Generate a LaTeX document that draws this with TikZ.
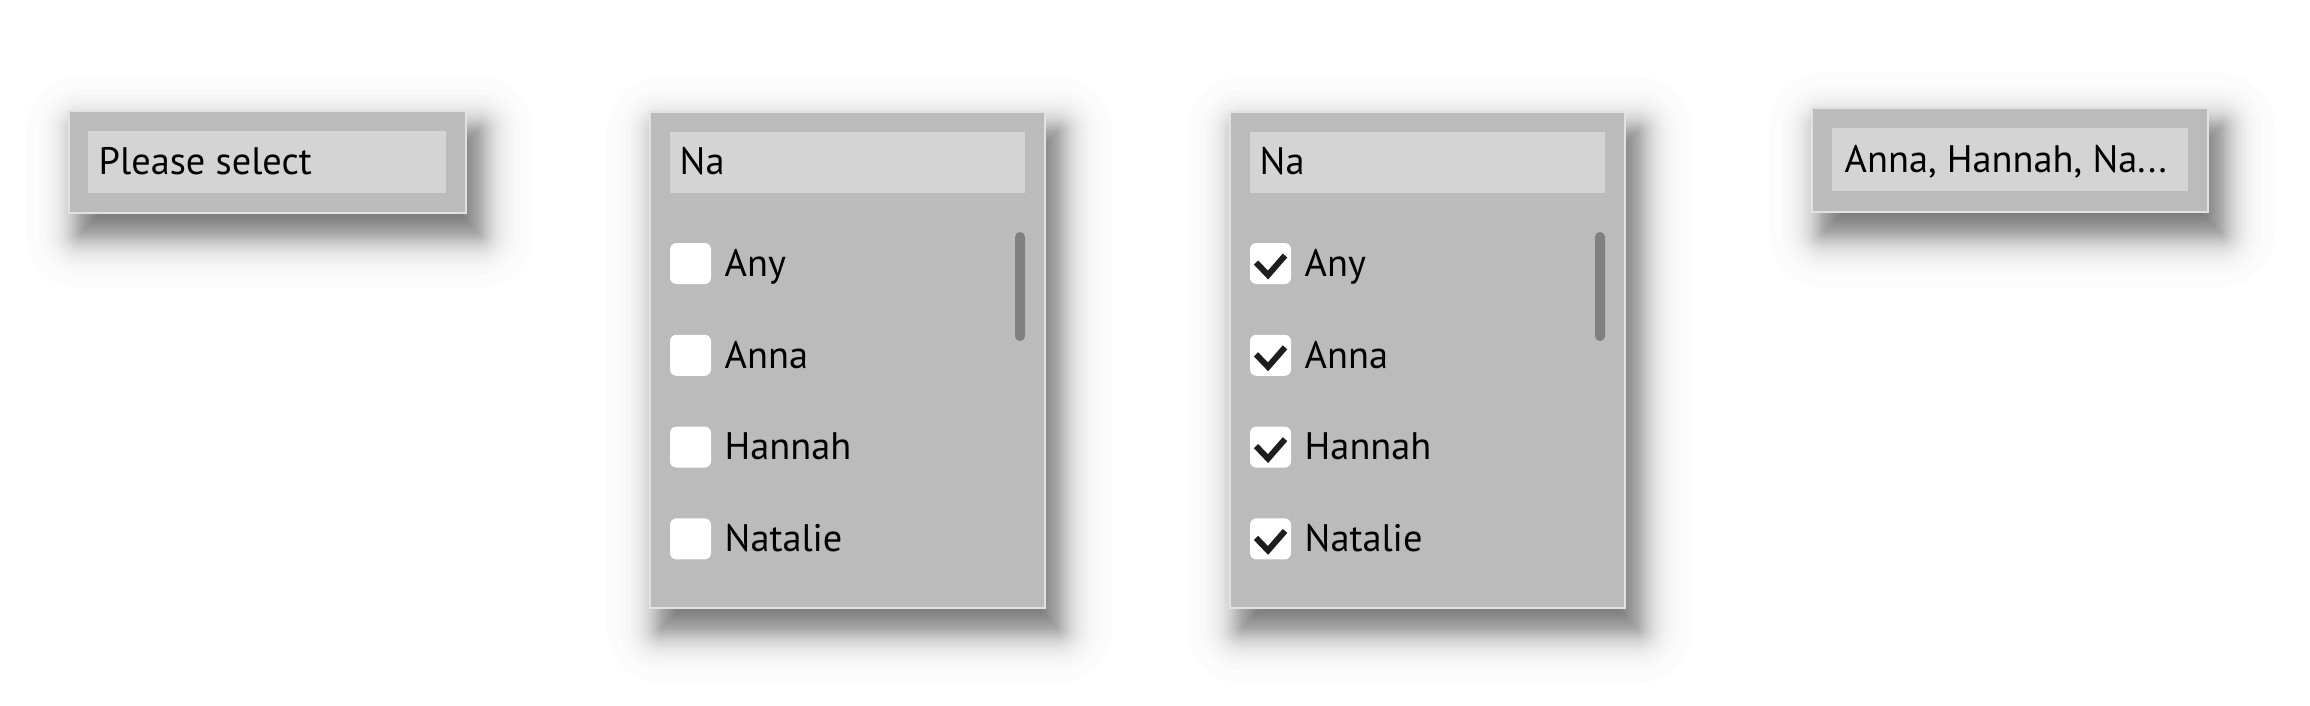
\documentclass[tikz,border=0pt]{standalone}
\usepackage{fontspec}
\setmainfont{PT Sans}

\definecolor{panelgray}{HTML}{BBBBBB}
\definecolor{fieldgray}{HTML}{D4D4D4}
\definecolor{panelrim}{HTML}{E2E2E2}
\definecolor{barhandle}{HTML}{808080}
\definecolor{tickblack}{HTML}{1E1E1E}

\tikzset{
	panel/.style={fill=panelgray, draw=panelrim, line width=0.5pt},
	shadowlayer/.style={fill=black, opacity=0.0132},
	searchfield/.style={fill=fieldgray},
	itemtext/.style={anchor=base west, inner sep=0pt, font=\fontsize{10.9}{13}\selectfont},
	checkbox/.style={fill=white, rounded corners=1.8pt},
	checkmark/.style={draw=tickblack, line width=1.7pt},
	scrollbar/.style={fill=barhandle, rounded corners=1.4pt}
}

\newcommand{\panelshadow}[4]{%
	\foreach \k in {1,...,60} {
		\pgfmathsetmacro{\p}{(\k-0.5)/60}
		\pgfmathsetmacro{\e}{11.5*ln(\p/(1-\p))}
		\pgfmathsetmacro{\rc}{max(\e,0.1)*0.2845}
		\fill[shadowlayer, rounded corners=\rc pt] (#1+12-\e,#2+20-\e) rectangle (#3+12+\e,#4+20+\e);
	}%
}

\begin{document}
\begin{tikzpicture}[x=0.01cm, y=-0.01cm]
		\useasboundingbox[fill=white] (0,0) rectangle (2310,705);
		
		\panelshadow{69}{111}{466}{213}
		\draw[panel] (69,111) rectangle (466,213);
		\fill[searchfield] (88,131) rectangle (446,193);
		\node[itemtext] (closed) at (98,174) {Please select};
		
		\foreach \ox/\ticked in {0/0, 580/1} {
			\panelshadow{650+\ox}{112}{1045+\ox}{608}
			\draw[panel] (650+\ox,112) rectangle (1045+\ox,608);
			\fill[searchfield] (670+\ox,132) rectangle (1025+\ox,193);
			\node[itemtext] (query-\ox) at (679+\ox,174) {Na};
			\fill[scrollbar] (1015+\ox,232) rectangle (1025+\ox,341);
			\foreach \who [count=\i] in {Any, Anna, Hannah, Natalie} {
				\pgfmathsetmacro{\cy}{263.5+(\i-1)*91.8}
				\fill[checkbox] (670+\ox,\cy-20.5) rectangle (711+\ox,\cy+20.5);
				\node[itemtext] (item-\ox-\i) at (724+\ox,\cy+12.8) {\who};
				\ifnum\ticked=1
					\draw[checkmark] (676+\ox,\cy-1) -- (688+\ox,\cy+11.5) -- (705+\ox,\cy-8);
				\fi
			}
		}
		
		\panelshadow{1812}{108}{2208}{212}
		\draw[panel] (1812,108) rectangle (2208,212);
		\fill[searchfield] (1832,128) rectangle (2188,191);
		\node[itemtext] (summary) at (1844,172) {Anna, Hannah, Na...};
\end{tikzpicture}
\end{document}
